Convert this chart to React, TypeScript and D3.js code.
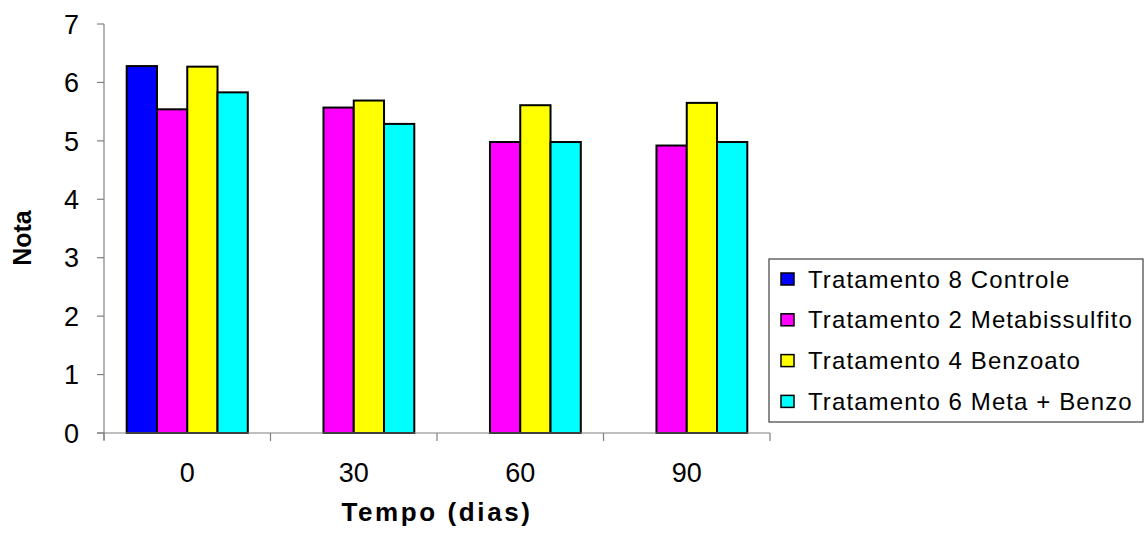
import React from "react";
import * as d3 from "d3";

const categories = ["0", "30", "60", "90"];
const seriesNames = [
  "Tratamento 8 Controle",
  "Tratamento 2 Metabissulfito",
  "Tratamento 4 Benzoato",
  "Tratamento 6 Meta + Benzo",
];
const seriesColors = ["#0000FF", "#FF00FF", "#FFFF00", "#00FFFF"];
const controle: (number | null)[] = [6.28, null, null, null];
const metabissulfito: (number | null)[] = [5.54, 5.57, 4.98, 4.92];
const benzoato: (number | null)[] = [6.27, 5.69, 5.61, 5.65];
const metaBenzo: (number | null)[] = [5.83, 5.29, 4.98, 4.98];
const seriesValues = [controle, metabissulfito, benzoato, metaBenzo];
const yTicks = [0, 1, 2, 3, 4, 5, 6, 7];
const xTitle = "Tempo (dias)";
const yTitle = "Nota";

export default function App() {
  const W = 1145;
  const H = 535;
  const left = 104;
  const right = 770;
  const top = 24;
  const bottom = 433;

  const x0 = d3.scaleBand<string>().domain(categories).range([left, right]).paddingInner(0).paddingOuter(0);
  const x1 = d3
    .scaleBand<string>()
    .domain(seriesNames)
    .range([0, x0.bandwidth()])
    .paddingOuter(0.75)
    .paddingInner(0);
  const y = d3.scaleLinear().domain([0, 7]).range([bottom, top]);

  const font = "'Liberation Sans', Arial, Helvetica, sans-serif";
  const axisColor = "#808080";

  const boundaries = [left, ...categories.map((c) => (x0(c) as number) + x0.bandwidth())];

  const legendX = 769;
  const legendY = 259;
  const legendW = 374;
  const legendH = 163;
  const legendStep = 40.8;

  return (
    <svg width={W} height={H} style={{ position: "absolute", left: 0, top: 0, background: "#fff" }}>
      <rect x={0} y={0} width={W} height={H} fill="#fff" />
      {/* bars */}
      {seriesValues.map((vals, si) =>
        vals.map((v, ci) =>
          v == null ? null : (
            <rect
              key={`${si}-${ci}`}
              x={(x0(categories[ci]) as number) + (x1(seriesNames[si]) as number)}
              y={y(v)}
              width={x1.bandwidth()}
              height={y(0) - y(v)}
              fill={seriesColors[si]}
              stroke="#000"
              strokeWidth={2}
            />
          )
        )
      )}
      {/* y axis */}
      <line x1={left} x2={left} y1={top} y2={bottom + 7} stroke={axisColor} strokeWidth={1.2} />
      {yTicks.map((t) => (
        <g key={t}>
          <line x1={left - 7} x2={left} y1={y(t)} y2={y(t)} stroke={axisColor} strokeWidth={1.2} />
          <text
            x={79}
            y={y(t)}
            dy="0.36em"
            textAnchor="end"
            fontFamily={font}
            fontSize={27}
            fill="#000"
          >
            {t}
          </text>
        </g>
      ))}
      {/* x axis */}
      <line x1={left - 7} x2={right} y1={bottom} y2={bottom} stroke={axisColor} strokeWidth={1.2} />
      {boundaries.map((b, i) => (
        <line key={i} x1={b} x2={b} y1={bottom} y2={bottom + 8} stroke={axisColor} strokeWidth={1.2} />
      ))}
      {categories.map((c) => (
        <text
          key={c}
          x={(x0(c) as number) + x0.bandwidth() / 2}
          y={482}
          textAnchor="middle"
          fontFamily={font}
          fontSize={27}
          fill="#000"
        >
          {c}
        </text>
      ))}
      {/* titles */}
      <text
        x={(left + right) / 2}
        y={521}
        textAnchor="middle"
        fontFamily={font}
        fontSize={26}
        fontWeight="bold"
        letterSpacing={2.6}
        fill="#000"
      >
        {xTitle}
      </text>
      <text
        transform={`translate(31, 238) rotate(-90)`}
        textAnchor="middle"
        fontFamily={font}
        fontSize={25}
        fontWeight="bold"
        fill="#000"
      >
        {yTitle}
      </text>
      {/* legend */}
      <rect x={legendX} y={legendY} width={legendW} height={legendH} fill="#fff" stroke="#404040" strokeWidth={1.2} />
      {seriesNames.map((name, i) => {
        const cy = legendY + 20 + i * legendStep;
        return (
          <g key={name}>
            <rect x={781} y={cy - 6} width={13} height={12} fill={seriesColors[i]} stroke="#000" strokeWidth={1.5} />
            <text
              x={808}
              y={cy}
              dy="0.36em"
              fontFamily={font}
              fontSize={24}
              letterSpacing={1.1}
              fill="#000"
            >
              {name}
            </text>
          </g>
        );
      })}
    </svg>
  );
}
